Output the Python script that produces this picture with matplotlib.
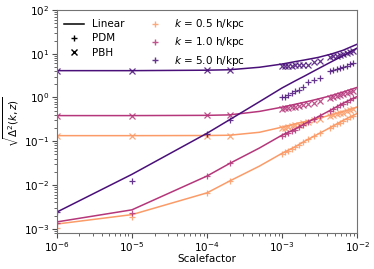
#!/usr/bin/env python3
"""sqrt(Delta^2) vs scale factor for PDM / PBH at three k."""
import matplotlib
matplotlib.use("Agg")
import matplotlib.pyplot as plt
from matplotlib.lines import Line2D

k_labels = ["0.5", "1.0", "5.0"]
colors = ["#fb9b68", "#b5367a", "#4a1079"]

# scale factors at which the linear curves are drawn
a_line = [1e-6, 1e-5, 1e-4, 2e-4, 5e-4, 1e-3, 1.5e-3, 2e-3, 3e-3, 4.5e-3, 6.5e-3, 1e-2]
lin_pbh = {
    "0.5": [0.134, 0.134, 0.135, 0.137, 0.16, 0.21, 0.25, 0.28, 0.33, 0.40, 0.48, 0.60],
    "1.0": [0.385, 0.385, 0.39, 0.40, 0.48, 0.60, 0.70, 0.78, 0.92, 1.10, 1.33, 1.70],
    "5.0": [4.1, 4.1, 4.2, 4.3, 4.9, 5.8, 6.6, 7.2, 8.2, 9.8, 12.0, 16.5],
}
lin_pdm = {
    "0.5": [0.00128, 0.0021, 0.0066, 0.0123, 0.027, 0.053, 0.075, 0.10, 0.145, 0.21, 0.30, 0.43],
    "1.0": [0.00143, 0.0027, 0.016, 0.031, 0.07, 0.138, 0.19, 0.25, 0.36, 0.52, 0.74, 1.05],
    "5.0": [0.0024, 0.0175, 0.152, 0.31, 0.80, 1.65, 2.4, 3.1, 4.5, 6.5, 9.0, 13.5],
}

# scale factors of the simulation snapshots
a_sim = [1e-6, 1e-5, 1e-4, 2e-4,
         1.0e-3, 1.09e-3, 1.19e-3, 1.34e-3, 1.48e-3, 1.67e-3, 1.9e-3, 2.2e-3, 2.66e-3, 3.2e-3,
         4.36e-3, 4.8e-3, 5.4e-3, 5.9e-3, 6.5e-3, 7.3e-3, 8.1e-3, 8.9e-3]
sim_pbh = {
    "0.5": [0.13, 0.13, 0.13, 0.135,
            0.20, 0.205, 0.21, 0.22, 0.23, 0.24, 0.255, 0.27, 0.30, 0.32,
            0.37, 0.39, 0.41, 0.43, 0.45, 0.48, 0.51, 0.54],
    "1.0": [0.385, 0.385, 0.39, 0.40,
            0.55, 0.56, 0.57, 0.59, 0.61, 0.64, 0.67, 0.70, 0.76, 0.82,
            0.98, 1.03, 1.08, 1.13, 1.19, 1.27, 1.35, 1.42],
    "5.0": [4.1, 4.1, 4.2, 4.2,
            5.2, 5.2, 5.3, 5.3, 5.4, 5.4, 5.5, 5.6, 6.5, 6.8,
            8.3, 8.7, 9.0, 9.5, 9.9, 10.4, 11.0, 11.8],
}
sim_pdm = {
    "0.5": [0.00105, 0.0019, 0.0066, 0.0123,
            0.052, 0.056, 0.061, 0.068, 0.075, 0.084, 0.095, 0.11, 0.13, 0.155,
            0.20, 0.22, 0.245, 0.265, 0.29, 0.32, 0.35, 0.38],
    "1.0": [0.00138, 0.0023, 0.016, 0.031,
            0.135, 0.145, 0.155, 0.17, 0.185, 0.21, 0.235, 0.27, 0.32, 0.38,
            0.50, 0.55, 0.61, 0.66, 0.72, 0.80, 0.87, 0.95],
    "5.0": [0.0024, 0.0124, 0.15, 0.30,
            1.0, 1.05, 1.14, 1.26, 1.37, 1.49, 1.69, 2.2, 2.5, 2.77,
            4.0, 4.2, 4.4, 4.6, 4.9, 5.3, 5.7, 6.2],
}


def main():
    plt.rcParams["font.size"] = 7.5
    fig = plt.figure(figsize=(3.74, 2.69), dpi=100)
    ax = fig.add_axes([0.152, 0.134, 0.803, 0.829])

    for k, c in zip(k_labels, colors):
        ax.plot(a_line, lin_pbh[k], color=c, lw=1.1)
        ax.plot(a_line, lin_pdm[k], color=c, lw=1.1)
        ax.plot(a_sim, sim_pbh[k], "x", color=c, ms=4, mew=0.9, alpha=0.85)
        ax.plot(a_sim, sim_pdm[k], "+", color=c, ms=5, mew=0.9, alpha=0.85)

    ax.set_xscale("log")
    ax.set_yscale("log")
    ax.set_xlim(1e-6, 1e-2)
    ax.set_ylim(8e-4, 1e2)
    ax.set_xlabel("Scalefactor", labelpad=0)
    ax.set_ylabel(r"$\sqrt{\Delta^2(k,z)}$", labelpad=2)
    for s in ax.spines.values():
        s.set_color("0.45")
    ax.tick_params(which="both", colors="0.3", labelcolor="black", pad=2)

    handles = [
        Line2D([], [], color="black", lw=1.1, label="Linear"),
        Line2D([], [], color="black", marker="+", ls="", ms=5, label="PDM"),
        Line2D([], [], color="black", marker="x", ls="", ms=4, label="PBH"),
    ]
    for k, c in zip(k_labels, colors):
        handles.append(Line2D([], [], color=c, marker="+", ls="", ms=5, alpha=0.85,
                              label=rf"$k$ = {k} h/kpc"))
    ax.legend(handles=handles, ncol=2, loc="upper left", frameon=False,
              handlelength=1.9, columnspacing=2.0, labelspacing=0.4,
              borderaxespad=0.3)

    fig.savefig("out.png", dpi=100)


if __name__ == "__main__":
    main()
